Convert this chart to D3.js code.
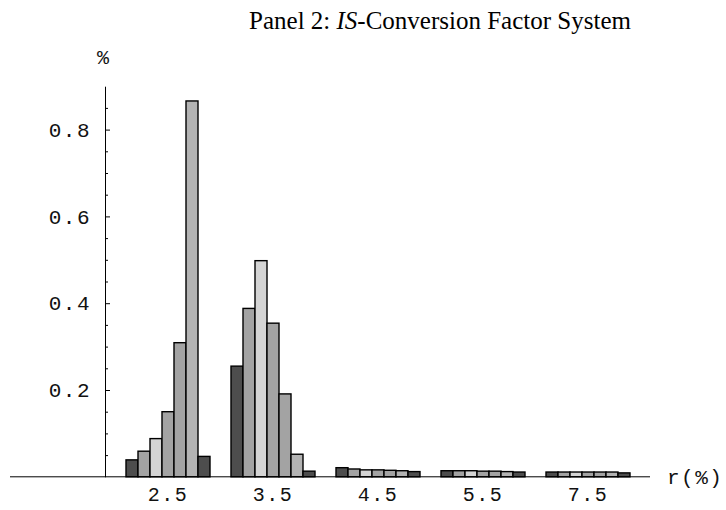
<!DOCTYPE html>
<html>
<head>
<meta charset="utf-8">
<script src="https://cdn.jsdelivr.net/npm/d3@7"></script>
<style>
  html, body { margin: 0; padding: 0; background: #fff; }
  svg { display: block; }
  .mono { font-family: "Liberation Mono", "DejaVu Sans Mono", monospace; }
</style>
</head>
<body>
<svg id="chart" width="726" height="510"></svg>
<script>
// Rate groups along the horizontal axis
const categories = ["2.5", "3.5", "4.5", "5.5", "7.5"];

// Seven series, one value per rate group (in %)
const series1 = [0.039, 0.255, 0.021, 0.014, 0.011];
const series2 = [0.059, 0.388, 0.018, 0.014, 0.011];
const series3 = [0.088, 0.498, 0.016, 0.014, 0.011];
const series4 = [0.150, 0.354, 0.016, 0.013, 0.011];
const series5 = [0.309, 0.191, 0.015, 0.013, 0.011];
const series6 = [0.866, 0.052, 0.014, 0.012, 0.011];
const series7 = [0.047, 0.013, 0.012, 0.011, 0.009];

const seriesNames = ["s1", "s2", "s3", "s4", "s5", "s6", "s7"];
const seriesValues = [series1, series2, series3, series4, series5, series6, series7];
const seriesFills = ["#4d4d4d", "#a3a3a3", "#d4d4d4", "#a3a3a3", "#a3a3a3", "#b3b3b3", "#4d4d4d"];

// Axis ticks
const majorTicks = [0.2, 0.4, 0.6, 0.8];
const minorTicks = [0.05, 0.1, 0.15, 0.25, 0.3, 0.35, 0.45, 0.5, 0.55, 0.65, 0.7, 0.75, 0.85];

const titleText = "Panel 2: ";
const titleItalic = "IS";
const titleRest = "-Conversion Factor System";

const svg = d3.select("#chart");

const yAxisX = 105;
const y = d3.scaleLinear().domain([0, 0.9]).range([476.8, 86.2]);

const x0 = d3.scaleBand()
  .domain(categories)
  .range([115.5, 640.5])
  .paddingInner(0.2)
  .paddingOuter(0.1);

const x1 = d3.scaleBand()
  .domain(seriesNames)
  .range([0, x0.bandwidth()])
  .padding(0);

// Bars
const groups = svg.append("g").selectAll("g")
  .data(categories)
  .join("g")
  .attr("transform", d => `translate(${x0(d)},0)`);

groups.selectAll("rect")
  .data((c, ci) => seriesNames.map((s, si) => ({ s, si, v: seriesValues[si][ci] })))
  .join("rect")
  .attr("x", d => x1(d.s))
  .attr("y", d => y(d.v))
  .attr("width", x1.bandwidth())
  .attr("height", d => y(0) - y(d.v))
  .attr("fill", d => seriesFills[d.si])
  .attr("stroke", "#000")
  .attr("stroke-width", 1.4);

// Horizontal axis line
svg.append("line")
  .attr("x1", 10).attr("x2", 650)
  .attr("y1", y(0)).attr("y2", y(0))
  .attr("stroke", "#000").attr("stroke-width", 1);

// Category labels
const xAxis = d3.axisBottom(x0).tickSize(0).tickPadding(10);
const gx = svg.append("g")
  .attr("transform", `translate(0,${y(0)})`)
  .call(xAxis);
gx.select(".domain").remove();
gx.selectAll("text")
  .attr("class", "mono")
  .attr("font-size", 20)
  .attr("letter-spacing", 1.5)
  .attr("fill", "#111");

// Vertical axis: minor ticks
const gyMinor = svg.append("g")
  .attr("transform", `translate(${yAxisX},0)`)
  .call(d3.axisLeft(y).tickValues(minorTicks).tickSizeInner(-3).tickSizeOuter(0).tickFormat(""));
gyMinor.select(".domain").remove();
gyMinor.selectAll("line").attr("stroke", "#000");

// Vertical axis: major ticks and labels
const gy = svg.append("g")
  .attr("transform", `translate(${yAxisX},0)`)
  .call(d3.axisLeft(y).tickValues(majorTicks).tickSizeInner(-5).tickSizeOuter(0)
    .tickPadding(14).tickFormat(d3.format(".1f")));
gy.select(".domain").attr("stroke", "#000");
gy.selectAll("line").attr("stroke", "#000");
gy.selectAll("text")
  .attr("class", "mono")
  .attr("font-size", 21)
  .attr("letter-spacing", 1.5)
  .attr("fill", "#111");

// Axis unit labels
svg.append("text")
  .attr("class", "mono")
  .attr("x", yAxisX - 2).attr("y", 64)
  .attr("text-anchor", "middle")
  .attr("font-size", 20)
  .attr("fill", "#111")
  .text("%");

svg.append("text")
  .attr("class", "mono")
  .attr("x", 667).attr("y", y(0) + 7)
  .attr("font-size", 21)
  .attr("letter-spacing", 1.5)
  .attr("fill", "#111")
  .text("r(%)");

// Title
const title = svg.append("text")
  .attr("x", 440).attr("y", 29)
  .attr("text-anchor", "middle")
  .attr("font-family", "\"Liberation Serif\", \"DejaVu Serif\", serif")
  .attr("font-size", 25)
  .attr("fill", "#000");
title.append("tspan").text(titleText);
title.append("tspan").attr("font-style", "italic").text(titleItalic);
title.append("tspan").text(titleRest);
</script>
</body>
</html>
